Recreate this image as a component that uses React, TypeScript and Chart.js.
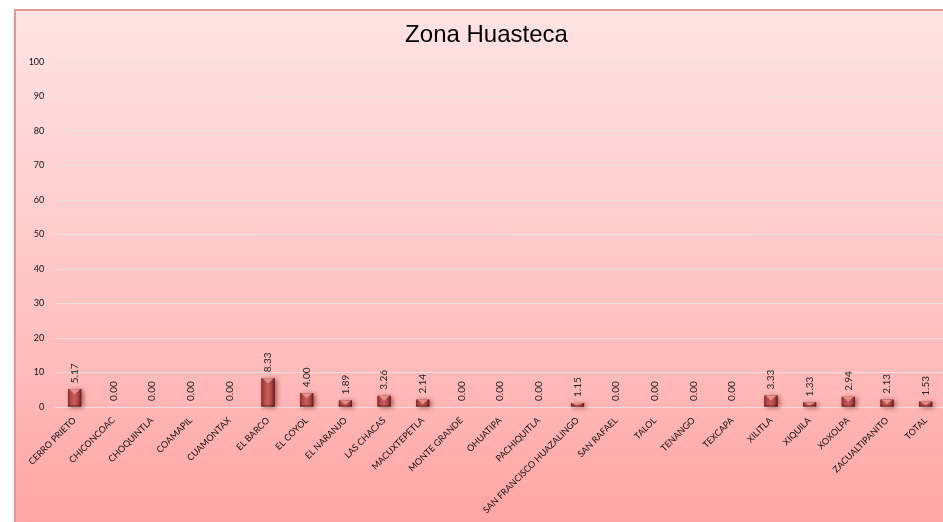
import React, { useEffect, useRef } from 'react';
import { Chart, registerables } from 'chart.js';

Chart.register(...registerables);

const chartTitle = 'Zona Huasteca';

const categories = [
  'CERRO PRIETO', 'CHICONCOAC', 'CHOQUINTLA', 'COAMAPIL', 'CUAMONTAX', 'EL BARCO',
  'EL COYOL', 'EL NARANJO', 'LAS CHACAS', 'MACUXTEPETLA', 'MONTE GRANDE', 'OHUATIPA',
  'PACHIQUITLA', 'SAN FRANCISCO HUAZALINGO', 'SAN RAFAEL', 'TALOL', 'TENANGO', 'TEXCAPA',
  'XILITLA', 'XIQUILA', 'XOXOLPA', 'ZACUALTIPANITO', 'TOTAL',
];

const values = [
  5.17, 0.0, 0.0, 0.0, 0.0, 8.33,
  4.0, 1.89, 3.26, 2.14, 0.0, 0.0,
  0.0, 1.15, 0.0, 0.0, 0.0, 0.0,
  3.33, 1.33, 2.94, 2.13, 1.53,
];

const yMin = 0;
const yMax = 100;
const yStep = 10;

const barDecor = {
  id: 'barDecor',
  beforeDatasetsDraw(chart: any) {
    const ctx = chart.ctx;
    const meta = chart.getDatasetMeta(0);
    ctx.save();
    meta.data.forEach((bar: any) => {
      const { x, y, base, width } = bar.getProps(['x', 'y', 'base', 'width'], true);
      const h = base - y;
      if (h < 0.5) return;
      ctx.shadowColor = 'rgba(90,10,10,0.6)';
      ctx.shadowBlur = 5;
      ctx.shadowOffsetX = 2;
      ctx.shadowOffsetY = 1;
      ctx.fillStyle = '#8e3331';
      ctx.fillRect(x - width / 2, y, width, h);
    });
    ctx.restore();
  },
  afterDatasetsDraw(chart: any) {
    const ctx = chart.ctx;
    const meta = chart.getDatasetMeta(0);
    ctx.save();
    meta.data.forEach((bar: any, i: number) => {
      const { x, y, base, width } = bar.getProps(['x', 'y', 'base', 'width'], true);
      const h = base - y;
      const left = x - width / 2;
      if (h >= 0.5) {
        const g = ctx.createLinearGradient(left, 0, left + width, 0);
        g.addColorStop(0, '#7a2826');
        g.addColorStop(0.18, '#b24845');
        g.addColorStop(0.5, '#c95f5b');
        g.addColorStop(0.8, '#a8403d');
        g.addColorStop(1, '#5a1a18');
        ctx.fillStyle = g;
        ctx.fillRect(left, y, width, h);
        const d = Math.min(4, h / 2);
        ctx.fillStyle = 'rgba(240,160,156,0.75)';
        ctx.beginPath();
        ctx.moveTo(left + 1, y);
        ctx.lineTo(left + width - 1, y);
        ctx.lineTo(x, y + d + 1);
        ctx.closePath();
        ctx.fill();
        ctx.fillStyle = 'rgba(60,10,10,0.35)';
        ctx.fillRect(left, base - 1.5, width, 1.5);
      }
      ctx.save();
      ctx.translate(x, y - 6);
      ctx.rotate(-Math.PI / 2);
      ctx.font = '10px Lato';
      ctx.fillStyle = '#222222';
      ctx.textAlign = 'left';
      ctx.textBaseline = 'middle';
      ctx.fillText(values[i].toFixed(2), 0, 0);
      ctx.restore();
    });
    ctx.restore();
  },
};

export default function App() {
  const ref = useRef<HTMLCanvasElement | null>(null);

  useEffect(() => {
    const canvas = ref.current;
    if (!canvas) return;
    const chart = new Chart(canvas, {
      type: 'bar',
      data: {
        labels: categories,
        datasets: [
          {
            data: values,
            backgroundColor: 'rgba(0,0,0,0)',
            borderWidth: 0,
            barPercentage: 0.34,
            categoryPercentage: 1,
          },
        ],
      },
      options: {
        animation: false,
        responsive: false,
        maintainAspectRatio: false,
        layout: { padding: { left: 12, right: 0, top: 0, bottom: 0 } },
        plugins: {
          legend: { display: false },
          tooltip: { enabled: false },
          title: {
            display: true,
            text: chartTitle,
            color: '#000000',
            font: { family: 'Liberation Sans', size: 24, weight: 'normal', lineHeight: 1.2 },
            padding: { top: 10, bottom: 12.2 },
          },
        },
        scales: {
          x: {
            grid: { display: false, drawTicks: false },
            border: { display: false },
            ticks: {
              autoSkip: false,
              maxRotation: 45,
              minRotation: 45,
              padding: 8,
              color: '#111111',
              font: { family: 'Lato', size: 9 },
            },
            afterFit(scale: any) {
              scale.height = 115;
            },
          },
          y: {
            min: yMin,
            max: yMax,
            ticks: {
              stepSize: yStep,
              padding: 11,
              color: '#111111',
              font: { family: 'Lato', size: 9 },
            },
            grid: { color: 'rgb(236,222,222)', lineWidth: 1, drawTicks: false },
            border: { display: false },
            afterFit(scale: any) {
              scale.width = 27.3;
            },
          },
        },
      },
      plugins: [barDecor],
    });
    return () => chart.destroy();
  }, []);

  return (
    <div style={{ position: 'absolute', left: 0, top: 0, width: 943, height: 522, overflow: 'hidden' }}>
      <div
        style={{
          position: 'absolute',
          left: 14,
          top: 9,
          width: 950,
          height: 530,
          border: '2px solid #e09a9a',
          background: 'linear-gradient(to bottom, #ffe3e3 0%, #ffc4c4 55%, #ffa2a2 100%)',
        }}
      />
      <div style={{ position: 'absolute', left: 16, top: 11, width: 929, height: 511 }}>
        <canvas ref={ref} width={929} height={511} style={{ display: 'block', width: 929, height: 511 }} />
      </div>
    </div>
  );
}
